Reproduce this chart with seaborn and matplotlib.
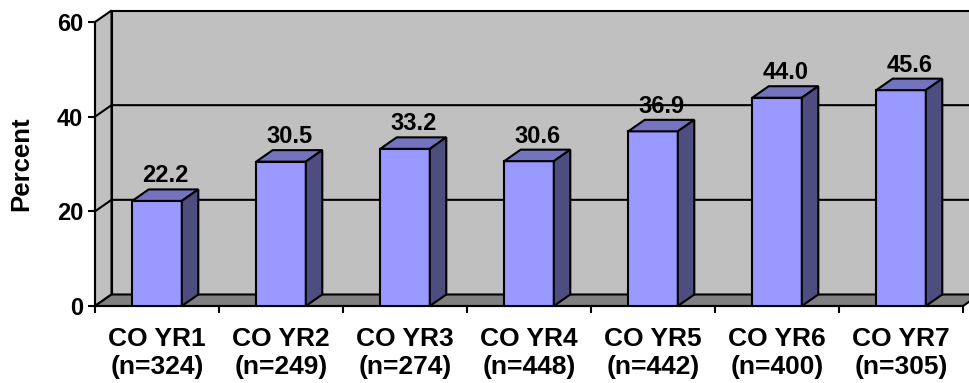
import numpy as np
import pandas as pd
import matplotlib
matplotlib.use("Agg")
import matplotlib.pyplot as plt
import seaborn as sns
from matplotlib.patches import Polygon

# Survey results by year
categories = ["CO YR1", "CO YR2", "CO YR3", "CO YR4", "CO YR5", "CO YR6", "CO YR7"]
sample_sizes = [324, 249, 274, 448, 442, 400, 305]
percents = [22.2, 30.5, 33.2, 30.6, 36.9, 44.0, 45.6]
y_ticks = [0, 20, 40, 60]

tick_labels = [f"{c}\n(n={n})" for c, n in zip(categories, sample_sizes)]

sns.set_style("white")
plt.rcParams["font.family"] = ["Liberation Sans", "DejaVu Sans"]
plt.rcParams["font.weight"] = "bold"
plt.rcParams["text.color"] = "black"
plt.rcParams["axes.labelcolor"] = "black"

W, H, DPI = 969, 383, 100
fig = plt.figure(figsize=(W / DPI, H / DPI), dpi=DPI)
fig.patch.set_facecolor("white")

# front plane of the plot, in pixels
left, right, bottom, top = 95, 963, 306, 22
ax = fig.add_axes([left / W, 1 - bottom / H, (right - left) / W, (bottom - top) / H])
ax.set_facecolor("none")

df = pd.DataFrame({"label": tick_labels, "pct": percents})
sns.barplot(data=df, x="label", y="pct", color="#9999FF", saturation=1,
            width=0.4, edgecolor="black", linewidth=1.5, ax=ax, zorder=3)
bars = list(ax.patches)

xmin, xmax = -0.5, len(categories) - 0.5
ymin, ymax = 0, 60
ax.set_xlim(xmin, xmax)
ax.set_ylim(ymin, ymax)

# depth of the pseudo-3D box, converted from pixels to data units
depth_px, rise_px = 16.5, 11.5
dxd = depth_px * (xmax - xmin) / (right - left)
dyd = rise_px * (ymax - ymin) / (bottom - top)

edge = dict(edgecolor="black", linewidth=1.5, clip_on=False, joinstyle="miter")

# back wall, side wall, floor
ax.add_patch(Polygon([(xmin + dxd, dyd), (xmax + dxd, dyd), (xmax + dxd, ymax + dyd),
                      (xmin + dxd, ymax + dyd)], closed=True, facecolor="#C0C0C0",
                     zorder=0.5, **edge))
ax.add_patch(Polygon([(xmin, 0), (xmin, ymax), (xmin + dxd, ymax + dyd), (xmin + dxd, dyd)],
                     closed=True, facecolor="#C0C0C0", zorder=0.6, **edge))
for y in y_ticks[1:-1]:
    ax.plot([xmin, xmin + dxd, xmax + dxd], [y, y + dyd, y + dyd], color="black",
            linewidth=1.5, clip_on=False, zorder=0.7)
ax.add_patch(Polygon([(xmin, 0), (xmax, 0), (xmax + dxd, dyd), (xmin + dxd, dyd)],
                     closed=True, facecolor="#808080", zorder=0.8, **edge))

# top and side faces of every column, plus value labels
for p, v in zip(bars, percents):
    bx, bw, h = p.get_x(), p.get_width(), p.get_height()
    ax.add_patch(Polygon([(bx, h), (bx + bw, h), (bx + bw + dxd, h + dyd), (bx + dxd, h + dyd)],
                         closed=True, facecolor="#7373BF", zorder=3, **edge))
    ax.add_patch(Polygon([(bx + bw, 0), (bx + bw, h), (bx + bw + dxd, h + dyd), (bx + bw + dxd, dyd)],
                         closed=True, facecolor="#4D4D80", zorder=3, **edge))
    ax.text(bx + bw / 2 + dxd / 2, h + dyd + 1.5, f"{v:.1f}", ha="center", va="baseline",
            fontsize=17, fontweight="bold", color="black", zorder=4)

# axes styling
for s in ("top", "right"):
    ax.spines[s].set_visible(False)
for s in ("left", "bottom"):
    ax.spines[s].set_color("black")
    ax.spines[s].set_linewidth(1.5)
    ax.spines[s].set_zorder(2.5)

ax.set_yticks(y_ticks)
ax.tick_params(axis="y", left=True, direction="out", length=5, width=1.5, pad=3.5,
               labelsize=17, colors="black")
ax.set_xticks(range(len(categories)))
ax.set_xticklabels(tick_labels, linespacing=1.2)
ax.tick_params(axis="x", which="major", bottom=True, length=0, pad=15, labelsize=19,
               colors="black")
ax.set_xticks(np.arange(xmin, xmax + 1, 1), minor=True)
ax.tick_params(axis="x", which="minor", bottom=True, direction="out", length=5, width=1.5,
               color="black")

ax.set_xlabel("")
ax.set_ylabel("Percent", fontsize=18.5, fontweight="bold", va="center", color="black")
ax.yaxis.set_label_coords((21.5 - left) / (right - left), 0.5)

fig.savefig("out.png", dpi=DPI)
